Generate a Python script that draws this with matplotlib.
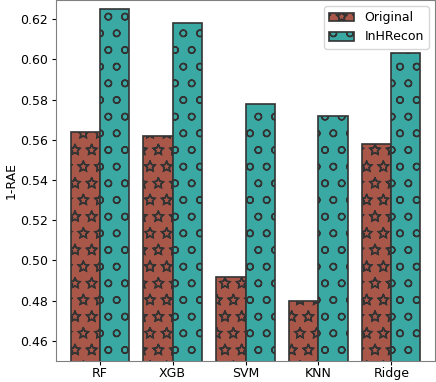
import numpy as np
import matplotlib
matplotlib.use("Agg")
import matplotlib.pyplot as plt
import matplotlib.hatch

models = ["RF", "XGB", "SVM", "KNN", "Ridge"]
original = [0.564, 0.562, 0.492, 0.480, 0.558]
inhrecon = [0.625, 0.618, 0.578, 0.572, 0.603]

# reference uses outlined (hollow) stars
matplotlib.hatch.Stars.filled = False

plt.rcParams['hatch.color'] = '#333333'
plt.rcParams['hatch.linewidth'] = 1.0

fig = plt.figure(figsize=(4.36, 3.82), dpi=100)
ax = fig.add_axes([56 / 436, 21 / 382, 379 / 436, 361 / 382])

x = np.arange(len(models))
width = 0.4
ax.bar(x - width / 2, original, width, color='#a95749', edgecolor='#333333',
       linewidth=1.2, hatch='*', label='Original')
ax.bar(x + width / 2, inhrecon, width, color='#3aa8a3', edgecolor='#333333',
       linewidth=1.2, hatch='o', label='InHRecon')

ax.set_xticks(x)
ax.set_xticklabels(models, fontsize=9)
ax.tick_params(axis='both', labelsize=9, length=3, pad=2.5)
ax.tick_params(axis='x', pad=1.5)
ax.set_ylabel('1-RAE', fontsize=9, labelpad=2)
ax.set_xlim(-0.6, 4.6)
ax.set_ylim(0.45, 0.6295)
ax.set_yticks(np.arange(0.46, 0.621, 0.02))
for s in ax.spines.values():
    s.set_color('#808080')
ax.legend(loc='upper right', fontsize=9)

fig.savefig('out.png', dpi=100)
